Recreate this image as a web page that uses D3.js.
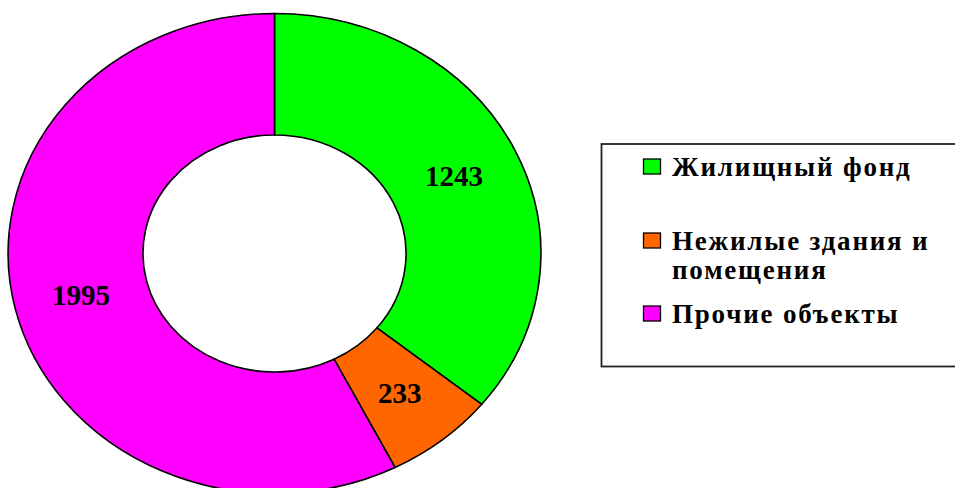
<!DOCTYPE html>
<html>
<head>
<meta charset="utf-8">
<script src="https://cdn.jsdelivr.net/npm/d3@7"></script>
<style>
    body { margin: 0; background: #fff; }
    svg { display: block; }
</style>
</head>
<body>
<svg id="chart" width="955" height="488"></svg>
<script>
// Data
const categories = ['Жилищный фонд', 'Нежилые здания и помещения', 'Прочие объекты'];
const values = [1243, 233, 1995];
const colors = ['#00ff00', '#ff6600', '#ff00ff'];
// legend lines (wrapped like the original)
const legendLines = [['Жилищный фонд'], ['Нежилые здания и', 'помещения'], ['Прочие объекты']];

const serif = '"Liberation Serif", "Times New Roman", serif';
const svg = d3.select('#chart');

// Donut geometry (the original is stretched horizontally)
const cx = 274.5;
const cy = 253.5;
const outerR = 240;
const innerR = 118.5;
const stretch = 1.11;

const pie = d3.pie().sort(null).value(d => d);
const arcs = pie(values);

const arc = d3.arc()
    .innerRadius(innerR)
    .outerRadius(outerR);

const donut = svg.append('g')
    .attr('transform', `translate(${cx},${cy}) scale(${stretch},1)`);

donut.selectAll('path')
    .data(arcs)
    .enter()
    .append('path')
    .attr('d', arc)
    .attr('fill', (d, i) => colors[i])
    .attr('stroke', '#000')
    .attr('stroke-width', 1.6)
    .attr('vector-effect', 'non-scaling-stroke');

// Value labels, placed at the ring centroid then stretched like the ring
svg.append('g')
    .selectAll('text')
    .data(arcs)
    .enter()
    .append('text')
    .attr('font-family', serif)
    .attr('font-weight', 'bold')
    .attr('x', d => cx + arc.centroid(d)[0] * stretch)
    .attr('y', d => cy + arc.centroid(d)[1])
    .attr('dy', '0.35em')
    .attr('text-anchor', 'middle')
    .attr('font-size', 29)
    .text(d => d.data);

// Legend
const legend = svg.append('g');

legend.append('rect')
    .attr('x', 601.5)
    .attr('y', 144)
    .attr('width', 400)
    .attr('height', 222.5)
    .attr('fill', '#fff')
    .attr('stroke', '#222')
    .attr('stroke-width', 1.8);

const baselines = [176, 250, 323];
const lineGap = 28.5;

const items = legend.selectAll('g.item')
    .data(categories)
    .enter()
    .append('g')
    .attr('class', 'item');

items.append('rect')
    .attr('x', 643.5)
    .attr('y', (d, i) => baselines[i] - 17)
    .attr('width', 17)
    .attr('height', 15)
    .attr('fill', (d, i) => colors[i])
    .attr('stroke', '#000')
    .attr('stroke-width', 1.3);

items.append('text')
    .attr('font-family', serif)
    .attr('font-weight', 'bold')
    .attr('font-size', 27)
    .attr('letter-spacing', 1.8)
    .each(function (d, i) {
        const t = d3.select(this);
        legendLines[i].forEach((line, j) => {
            t.append('tspan')
                .attr('x', 672)
                .attr('y', baselines[i] + j * lineGap)
                .text(line);
        });
    });
</script>
</body>
</html>
